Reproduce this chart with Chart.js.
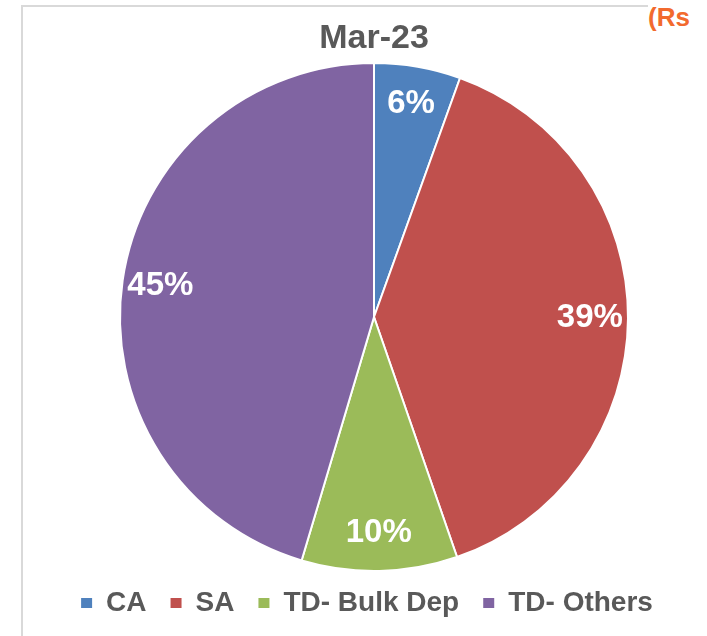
<!DOCTYPE html>
<html lang="en">
<head>
    <meta charset="UTF-8">
    <title>Mar-23 Deposit Mix</title>
    <script src="https://cdn.jsdelivr.net/npm/chart.js"></script>
    <style>
        body { margin: 0; background: #fff; }
        #wrap { position: relative; width: 707px; height: 636px; overflow: hidden; }
        #frame {
            position: absolute; left: 21px; top: 5px; width: 800px; height: 800px;
            border-left: 2px solid #d9d9d9; border-top: 2px solid #d9d9d9;
        }
        #rs {
            position: absolute; left: 648px; top: 2px; padding-right: 20px; line-height: 26px;
            font: bold 26px "Liberation Sans", Arial, sans-serif; color: #f26a2e; background: #fff;
        }
        #myChart { position: absolute; left: 0; top: 0; }
    </style>
</head>
<body>
<div id="wrap">
    <div id="frame"></div>
    <span id="rs">(Rs</span>
    <canvas id="myChart" width="707" height="636"></canvas>
</div>

<script>
    // deposit mix, share of total (%)
    const categories = ['CA', 'SA', 'TD- Bulk Dep', 'TD- Others'];
    const shares = [5.5, 39.2, 9.9, 45.4];
    const colors = ['#4f81bd', '#c0504d', '#9bbb59', '#8064a2'];

    const FONT = '"Liberation Sans", Arial, sans-serif';

    // white % labels inside each slice
    const pctLabels = {
        id: 'pctLabels',
        afterDatasetsDraw(chart) {
            const ctx = chart.ctx;
            const meta = chart.getDatasetMeta(0);
            ctx.save();
            ctx.fillStyle = '#fff';
            ctx.font = 'bold 33px ' + FONT;
            ctx.textAlign = 'center';
            ctx.textBaseline = 'middle';
            meta.data.forEach((arc, i) => {
                const p = arc.getProps(['x', 'y', 'startAngle', 'endAngle', 'outerRadius'], true);
                const mid = (p.startAngle + p.endAngle) / 2;
                const r = p.outerRadius * 0.85;
                ctx.fillText(Math.round(shares[i]) + '%', p.x + Math.cos(mid) * r, p.y + Math.sin(mid) * r);
            });
            ctx.restore();
        }
    };

    // legend sits a little higher / further left than chart.js puts it
    const nudgeLegend = {
        id: 'nudgeLegend',
        afterLayout(chart) {
            const lg = chart.legend;
            lg.top -= 7;
            lg.bottom -= 7;
            lg.left -= 14;
        }
    };

    const ctx = document.getElementById('myChart').getContext('2d');
    new Chart(ctx, {
        type: 'pie',
        data: {
            labels: categories,
            datasets: [{
                data: shares,
                backgroundColor: colors,
                borderColor: '#fff',
                borderWidth: 2
            }]
        },
        options: {
            responsive: false,
            animation: false,
            events: [],
            layout: { padding: { left: 41, right: 0, top: 0, bottom: 2 } },
            plugins: {
                title: {
                    display: true,
                    text: 'Mar-23',
                    color: '#595959',
                    font: { family: FONT, size: 34, weight: 'bold' },
                    padding: { top: 18.6, bottom: 2.6 }
                },
                legend: {
                    position: 'bottom',
                    labels: {
                        boxWidth: 11,
                        boxHeight: 10,
                        padding: 24,
                        color: '#595959',
                        font: { family: FONT, size: 28, weight: 'bold' },
                        // no white outline round the legend squares
                        generateLabels(chart) {
                            const items = Chart.overrides.pie.plugins.legend.labels.generateLabels(chart);
                            items.forEach(it => { it.lineWidth = 0; });
                            return items;
                        }
                    }
                },
                tooltip: { enabled: false }
            }
        },
        plugins: [pctLabels, nudgeLegend]
    });
</script>
</body>
</html>
